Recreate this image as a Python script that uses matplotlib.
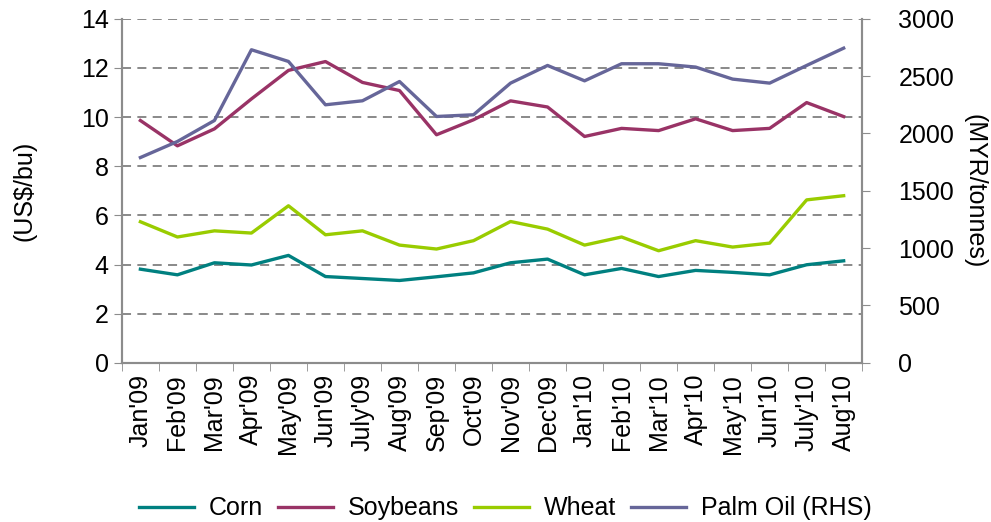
import matplotlib.pyplot as plt
import numpy as np

plt.rcParams['font.family'] = ['Liberation Sans', 'DejaVu Sans']

# Datos
months = ["Jan'09", "Feb'09", "Mar'09", "Apr'09", "May'09", "Jun'09", "July'09",
          "Aug'09", "Sep'09", "Oct'09", "Nov'09", "Dec'09", "Jan'10", "Feb'10",
          "Mar'10", "Apr'10", "May'10", "Jun'10", "July'10", "Aug'10"]
corn = [3.81, 3.58, 4.07, 3.98, 4.37, 3.51, 3.43, 3.35, 3.50, 3.66,
        4.07, 4.22, 3.58, 3.84, 3.51, 3.76, 3.68, 3.58, 3.99, 4.15]
soybeans = [9.86, 8.83, 9.52, 10.74, 11.90, 12.26, 11.41, 11.08, 9.28, 9.89,
            10.66, 10.41, 9.21, 9.54, 9.45, 9.93, 9.45, 9.54, 10.59, 10.02]
wheat = [5.74, 5.12, 5.37, 5.28, 6.39, 5.21, 5.37, 4.79, 4.63, 4.97,
         5.75, 5.44, 4.79, 5.12, 4.56, 4.97, 4.71, 4.87, 6.63, 6.80]
palm_oil = [1790, 1930, 2113, 2730, 2628, 2250, 2285, 2453, 2148, 2163,
            2439, 2593, 2459, 2608, 2608, 2579, 2474, 2439, 2593, 2744]

grey = '#8c8c8c'
fs = 18

fig = plt.figure(figsize=(9.91, 5.22), dpi=100)
ax = fig.add_axes([0.123, 0.305, 0.747, 0.659])
ax2 = ax.twinx()

x = np.arange(len(months))
l1, = ax.plot(x, corn, color='#008080', lw=2.4, label='Corn')
l2, = ax.plot(x, soybeans, color='#993366', lw=2.4, label='Soybeans')
l3, = ax.plot(x, wheat, color='#99cc00', lw=2.4, label='Wheat')
l4, = ax2.plot(x, palm_oil, color='#666699', lw=2.4, label='Palm Oil (RHS)')

ax.set_xlim(-0.5, len(months) - 0.5)
ax.set_ylim(0, 14)
ax.set_yticks(np.arange(0, 15, 2))
ax2.set_ylim(0, 3000)
ax2.set_yticks(np.arange(0, 3001, 500))

ax.set_xticks(x)
ax.set_xticklabels(months, rotation=90)
ax.set_xticks(np.arange(-0.5, len(months)), minor=True)
ax.tick_params(axis='x', which='major', length=0, labelsize=fs, pad=8)
ax.tick_params(axis='x', which='minor', length=6, color=grey)
ax.tick_params(axis='y', labelsize=fs, length=6, color=grey)
ax2.tick_params(axis='y', labelsize=fs, length=6, color=grey, pad=20)

ax.grid(axis='y', color='#808080', linestyle=(0, (5, 3.5)), lw=1.3)
for a in (ax, ax2):
    a.spines['top'].set_visible(False)
    for s in ('left', 'right', 'bottom'):
        a.spines[s].set_color(grey)
        a.spines[s].set_linewidth(1.5)

ax.set_ylabel('(US$/bu)', fontsize=fs)
ax.yaxis.set_label_coords(-0.116, 0.5)
ax2.set_ylabel('(MYR/tonnes)', fontsize=fs, rotation=270)
ax2.yaxis.set_label_coords(1.168, 0.5)

fig.legend(handles=[l1, l2, l3, l4], loc='lower center', ncol=4, frameon=False,
           fontsize=fs, bbox_to_anchor=(0.51, -0.04), handlelength=2.2,
           columnspacing=0.6, handletextpad=0.6)

fig.savefig('out.png', dpi=100)
